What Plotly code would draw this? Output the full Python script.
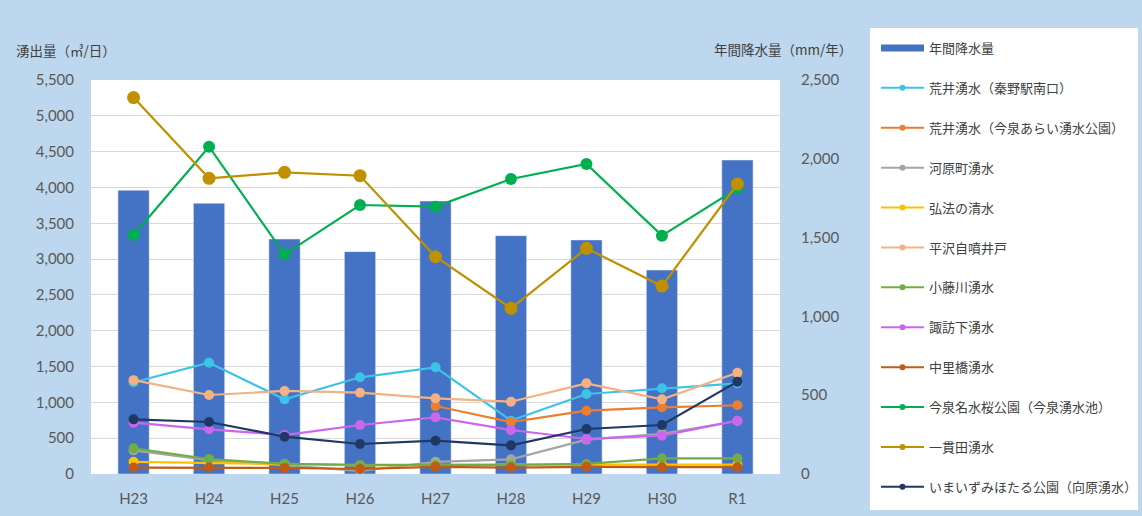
import plotly.graph_objects as go

# Fiscal years
years = ["H23", "H24", "H25", "H26", "H27", "H28", "H29", "H30", "R1"]

# Annual precipitation (mm/year), right axis
rain = [1800, 1718, 1491, 1411, 1732, 1512, 1485, 1294, 1992]

# Spring discharge (m3/day), left axis
arai_hadano = [1280, 1554, 1042, 1350, 1489, 745, 1117, 1196, 1266]
arai_imaizumi = [None, None, None, None, 949, 725, 884, 931, 960]
kawaramachi = [330, 195, 120, 45, 170, 205, 480, 560, 740]
kobo = [170, 160, 140, 120, 130, 130, 130, 130, 130]
hirasawa = [1310, 1103, 1159, 1135, 1056, 1009, 1266, 1042, 1414]
kofujikawa = [358, 209, 140, 126, 126, 126, 140, 219, 219]
suwashita = [716, 624, 544, 684, 791, 614, 489, 535, 744]
nakazatobashi = [90, 90, 85, 70, 100, 90, 100, 95, 95]
imaizumi_meisui = [3336, 4569, 3066, 3755, 3732, 4118, 4327, 3327, 3988]
ikkanda = [5255, 4127, 4211, 4164, 3033, 2313, 3150, 2624, 4048]
hotaru = [763, 726, 521, 419, 465, 400, 628, 684, 1289]

series = [
    ("荒井湧水（秦野駅南口）", arai_hadano, "#3EC3E8", 10),
    ("荒井湧水（今泉あらい湧水公園）", arai_imaizumi, "#ED7D31", 10),
    ("河原町湧水", kawaramachi, "#A5A5A5", 10),
    ("弘法の清水", kobo, "#FFC000", 10),
    ("平沢自噴井戸", hirasawa, "#F4B183", 10),
    ("小藤川湧水", kofujikawa, "#70AD47", 10),
    ("諏訪下湧水", suwashita, "#CC66EE", 10),
    ("中里橋湧水", nakazatobashi, "#BF5B17", 10),
    ("今泉名水桜公園（今泉湧水池）", imaizumi_meisui, "#00B050", 12),
    ("一貫田湧水", ikkanda, "#BF9000", 13),
    ("いまいずみほたる公園（向原湧水）", hotaru, "#203864", 10),
]

BAR_COLOR = "#4472C4"
TICK_FONT = dict(family="Lato, 'Noto Sans CJK JP', sans-serif", size=15, color="#595959")
JP_FONT = "'Noto Sans CJK JP', sans-serif"

fig = go.Figure()

# Precipitation bars: base axis (right side) so the lines draw above them
fig.add_trace(go.Bar(
    x=years, y=rain, name="年間降水量", marker_color=BAR_COLOR,
    yaxis="y", showlegend=False,
))

# Discharge lines on the overlaying left axis
for name, vals, color, msize in series:
    fig.add_trace(go.Scatter(
        x=years, y=vals, name=name, mode="lines+markers",
        line=dict(color=color, width=2.2),
        marker=dict(color=color, size=msize),
        yaxis="y2", showlegend=False,
    ))

# Legend entries with compact symbols
fig.add_trace(go.Scatter(
    x=[None], y=[None], name="年間降水量", mode="lines",
    line=dict(color=BAR_COLOR, width=7), legendgroup="g0",
))
for i, (name, vals, color, msize) in enumerate(series, start=1):
    fig.add_trace(go.Scatter(
        x=[None], y=[None], name=name, mode="lines+markers",
        line=dict(color=color, width=2), marker=dict(color=color, size=6),
        legendgroup=f"g{i}", yaxis="y2",
    ))

W, H = 1142, 516
L, R, T, B = 91, 362, 80, 42
pw, ph = W - L - R, H - T - B

def px_x(x):
    return (x - L) / pw

def px_y(y):
    return (H - B - y) / ph

fig.update_layout(
    width=W, height=H,
    margin=dict(l=L, r=R, t=T, b=B),
    paper_bgcolor="#BDD7EE",
    plot_bgcolor="white",
    bargap=0.586,
    xaxis=dict(
        type="category", tickfont=TICK_FONT, showgrid=False, showline=False,
        ticks="", ticklabelstandoff=14, fixedrange=True, automargin=False,
    ),
    yaxis=dict(
        range=[0, 2500], dtick=500, tickformat=",", tickfont=TICK_FONT,
        side="right", showgrid=False, zeroline=False, automargin=False,
        showline=False, ticks="", ticklabelstandoff=20,
    ),
    yaxis2=dict(
        range=[0, 5500], dtick=500, tickformat=",", tickfont=TICK_FONT,
        overlaying="y", side="left", automargin=False,
        showgrid=True, gridcolor="#D9D9D9", gridwidth=1.3, zeroline=False,
        showline=False, ticks="", ticklabelstandoff=16,
    ),
    legend=dict(
        xref="container", yref="container",
        x=876 / W, y=1 - 33 / H, xanchor="left", yanchor="top",
        bgcolor="rgba(0,0,0,0)", font=dict(family=JP_FONT, size=13, color="#404040"),
        itemwidth=43, tracegroupgap=20, traceorder="grouped", maxheight=600,
    ),
    shapes=[
        dict(type="rect", xref="paper", yref="paper",
             x0=px_x(870), x1=px_x(1138), y0=px_y(510), y1=px_y(28),
             fillcolor="white", line=dict(width=0), layer="below"),
    ],
    annotations=[
        dict(text="湧出量（㎥/日）", xref="paper", yref="paper",
             x=px_x(14), y=px_y(50), xanchor="left", yanchor="middle",
             showarrow=False, font=dict(family=JP_FONT, size=13.5, color="#404040")),
        dict(text="年間降水量（mm/年）", xref="paper", yref="paper",
             x=px_x(712), y=px_y(49), xanchor="left", yanchor="middle",
             showarrow=False, font=dict(family=JP_FONT, size=13.5, color="#404040")),
    ],
)

fig.write_html("out.html")
